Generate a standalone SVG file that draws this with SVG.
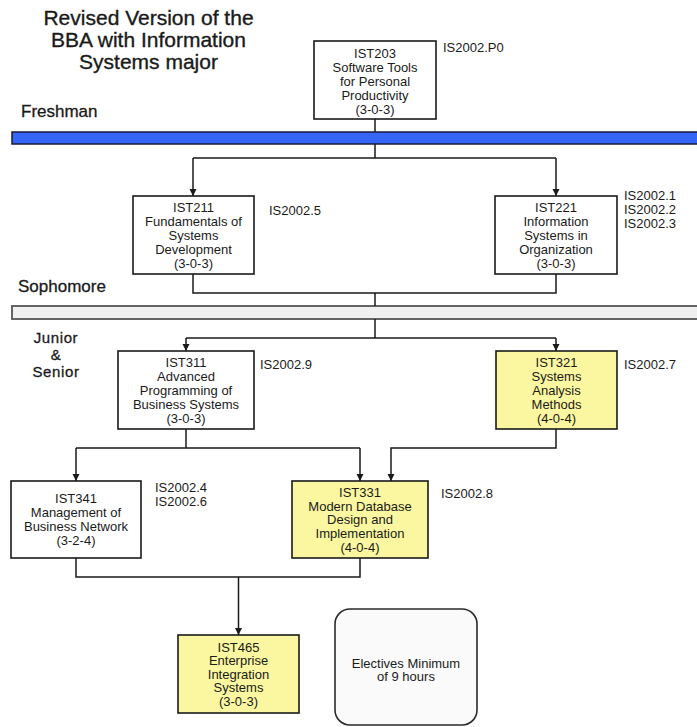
<svg xmlns="http://www.w3.org/2000/svg" width="697" height="727" viewBox="0 0 697 727">
  <style>
    .title { font-family: "Liberation Sans", Arial, sans-serif; font-size: 21px; fill: #1a1a1a; stroke: #1a1a1a; stroke-width: 0.35; text-anchor: middle; }
    .year { font-family: "Liberation Sans", Arial, sans-serif; font-size: 17px; fill: #1a1a1a; stroke: #1a1a1a; stroke-width: 0.3; }
    .year.small { font-size: 15px; letter-spacing: 0.6px; text-anchor: middle; }
    .box { fill: #ffffff; stroke: #1a1a1a; stroke-width: 1.6; }
    .box.core { fill: #fbf7a0; }
    .elective { fill: #fafafa; stroke: #2a2a2a; stroke-width: 1.6; }
    .t { font-family: "Liberation Sans", Arial, sans-serif; font-size: 13px; fill: #1a1a1a; text-anchor: middle; }
    .code { font-family: "Liberation Sans", Arial, sans-serif; font-size: 13px; fill: #1a1a1a; }
    .wire { fill: none; stroke: #1a1a1a; stroke-width: 1.5; }
  </style>
  <defs>
    <marker id="arrow" markerUnits="userSpaceOnUse" markerWidth="8" markerHeight="8" refX="7" refY="3.5" orient="auto">
      <path d="M0,0 L7,3.5 L0,7 z" fill="#1a1a1a"/>
    </marker>
  </defs>

  <rect width="697" height="727" fill="#ffffff"/>

  <!-- heading -->
  <g id="heading">
    <text class="title" x="148.5" y="25">Revised Version of the</text>
    <text class="title" x="148.5" y="47">BBA with Information</text>
    <text class="title" x="148.5" y="69">Systems major</text>
  </g>

  <!-- year bands -->
  <g id="freshman">
    <text class="year" x="21" y="117">Freshman</text>
    <rect x="12" y="132" width="700" height="12" fill="#3566f5" stroke="#1a1a3a" stroke-width="1.5"/>
  </g>
  <g id="sophomore">
    <text class="year" x="18" y="292">Sophomore</text>
    <rect x="12" y="306" width="700" height="13" fill="#f0f0f0" stroke="#555555" stroke-width="1.8"/>
  </g>
  <g id="junior-senior">
    <text class="year small" x="56" y="343">Junior</text>
    <text class="year small" x="56" y="360">&amp;</text>
    <text class="year small" x="56" y="377">Senior</text>
  </g>

  <!-- connectors -->
  <g id="connectors">
    <path class="wire" d="M375,119 V132 M375,144 V158 M193,158 H556"/>
    <path class="wire" d="M193,158 V196" marker-end="url(#arrow)"/>
    <path class="wire" d="M556,158 V196" marker-end="url(#arrow)"/>
    <path class="wire" d="M193,274 V293 H556 V274 M375,293 V306"/>
    <path class="wire" d="M375,319 V338 M186,338 H556"/>
    <path class="wire" d="M186,338 V351" marker-end="url(#arrow)"/>
    <path class="wire" d="M556,338 V351" marker-end="url(#arrow)"/>
    <path class="wire" d="M186,429 V448 M76,448 H360"/>
    <path class="wire" d="M76,448 V481" marker-end="url(#arrow)"/>
    <path class="wire" d="M360,448 V481" marker-end="url(#arrow)"/>
    <path class="wire" d="M556,429 V448 H391 V481" marker-end="url(#arrow)"/>
    <path class="wire" d="M76,558 V577 H360 V558"/>
    <path class="wire" d="M238.5,577 V635" marker-end="url(#arrow)"/>
  </g>

  <!-- courses -->
  <g id="ist203">
    <rect class="box" x="314" y="41" width="122" height="78"/>
    <text class="t" x="375" y="57.5">IST203</text>
    <text class="t" x="375" y="71.5">Software Tools</text>
    <text class="t" x="375" y="85.5">for Personal</text>
    <text class="t" x="375" y="99.5">Productivity</text>
    <text class="t" x="375" y="113.5">(3-0-3)</text>
    <text class="code" x="443" y="51.5">IS2002.P0</text>
  </g>

  <g id="ist211">
    <rect class="box" x="133" y="196" width="121" height="78"/>
    <text class="t" x="193.5" y="211.5">IST211</text>
    <text class="t" x="193.5" y="225.5">Fundamentals of</text>
    <text class="t" x="193.5" y="239.5">Systems</text>
    <text class="t" x="193.5" y="253.5">Development</text>
    <text class="t" x="193.5" y="267.5">(3-0-3)</text>
    <text class="code" x="269" y="214.5">IS2002.5</text>
  </g>

  <g id="ist221">
    <rect class="box" x="495" y="196" width="122" height="78"/>
    <text class="t" x="556" y="211.5">IST221</text>
    <text class="t" x="556" y="225.5">Information</text>
    <text class="t" x="556" y="239.5">Systems in</text>
    <text class="t" x="556" y="253.5">Organization</text>
    <text class="t" x="556" y="267.5">(3-0-3)</text>
    <text class="code" x="624" y="199.5">IS2002.1</text>
    <text class="code" x="624" y="213.5">IS2002.2</text>
    <text class="code" x="624" y="227.5">IS2002.3</text>
  </g>

  <g id="ist311">
    <rect class="box" x="118" y="351" width="136" height="78"/>
    <text class="t" x="186" y="366.5">IST311</text>
    <text class="t" x="186" y="380.5">Advanced</text>
    <text class="t" x="186" y="394.5">Programming of</text>
    <text class="t" x="186" y="408.5">Business Systems</text>
    <text class="t" x="186" y="422.5">(3-0-3)</text>
    <text class="code" x="260" y="368.5">IS2002.9</text>
  </g>

  <g id="ist321">
    <rect class="box core" x="496" y="351" width="121" height="78"/>
    <text class="t" x="556.5" y="366.5">IST321</text>
    <text class="t" x="556.5" y="380.5">Systems</text>
    <text class="t" x="556.5" y="394.5">Analysis</text>
    <text class="t" x="556.5" y="408.5">Methods</text>
    <text class="t" x="556.5" y="422.5">(4-0-4)</text>
    <text class="code" x="624" y="368.5">IS2002.7</text>
  </g>

  <g id="ist341">
    <rect class="box" x="11" y="481" width="130" height="77"/>
    <text class="t" x="76" y="502.5">IST341</text>
    <text class="t" x="76" y="516.5">Management of</text>
    <text class="t" x="76" y="530.5">Business Network</text>
    <text class="t" x="76" y="544.5">(3-2-4)</text>
    <text class="code" x="155" y="491.5">IS2002.4</text>
    <text class="code" x="155" y="505.5">IS2002.6</text>
  </g>

  <g id="ist331">
    <rect class="box core" x="292" y="481" width="136" height="77"/>
    <text class="t" x="360" y="496.5">IST331</text>
    <text class="t" x="360" y="510.5">Modern Database</text>
    <text class="t" x="360" y="524">Design and</text>
    <text class="t" x="360" y="537.5">Implementation</text>
    <text class="t" x="360" y="551.5">(4-0-4)</text>
    <text class="code" x="441" y="497.5">IS2002.8</text>
  </g>

  <g id="ist465">
    <rect class="box core" x="178" y="635" width="121" height="78"/>
    <text class="t" x="238.5" y="651.5">IST465</text>
    <text class="t" x="238.5" y="665">Enterprise</text>
    <text class="t" x="238.5" y="678.5">Integration</text>
    <text class="t" x="238.5" y="692">Systems</text>
    <text class="t" x="238.5" y="705.5">(3-0-3)</text>
  </g>

  <g id="electives">
    <rect class="elective" x="335" y="609" width="142" height="116" rx="15" ry="15"/>
    <text class="t" x="406" y="667.5">Electives Minimum</text>
    <text class="t" x="406" y="681">of 9 hours</text>
  </g>
</svg>
